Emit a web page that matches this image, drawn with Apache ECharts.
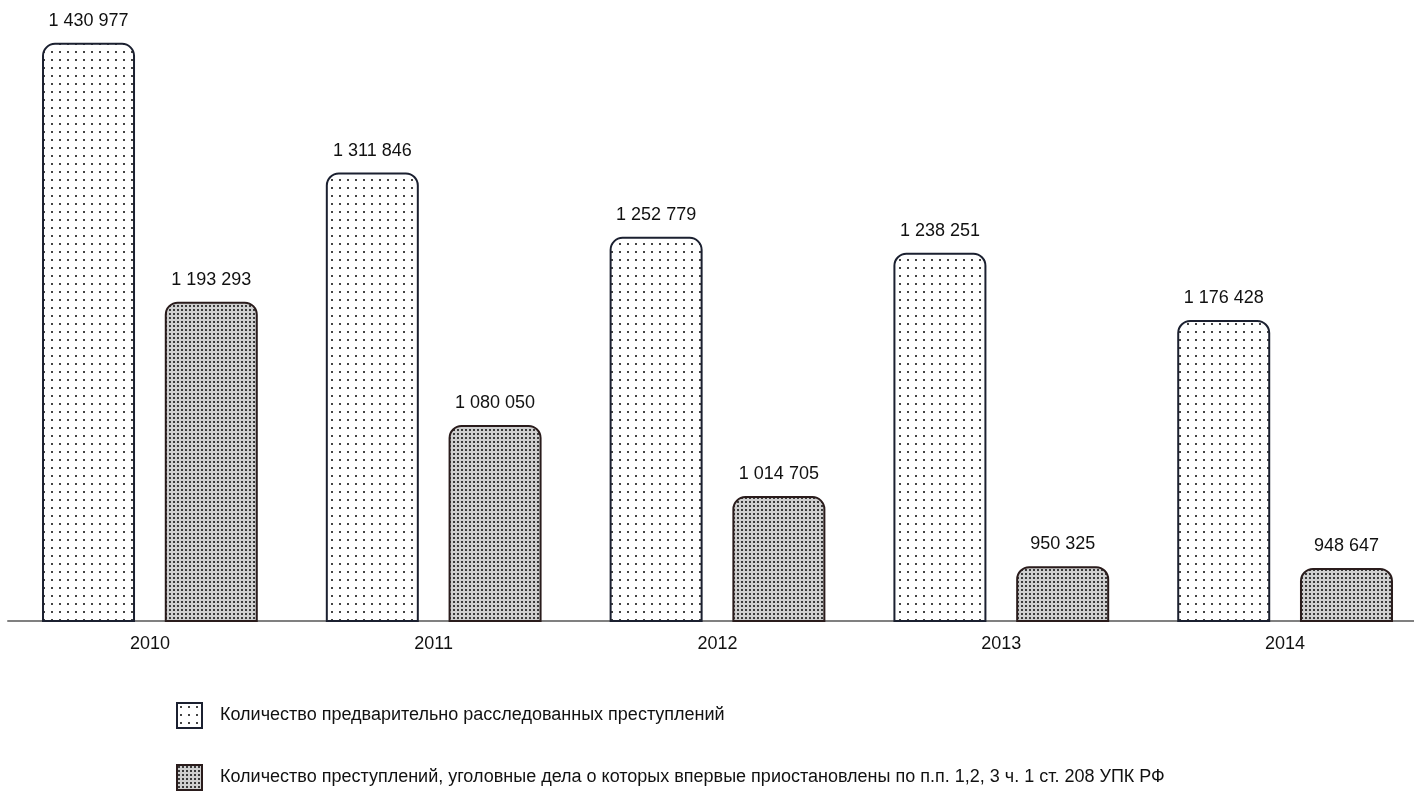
<!DOCTYPE html>
<html><head><meta charset="utf-8">
<script src="https://cdn.jsdelivr.net/npm/echarts@6/dist/echarts.min.js"></script>
<style>html,body{margin:0;padding:0;background:#fff;}#c{width:1414px;height:791px;}</style>
</head><body><div id="c"></div>
<script>
const categories = ['2010', '2011', '2012', '2013', '2014'];
const investigated = [1430977, 1311846, 1252779, 1238251, 1176428];
const suspended = [1193293, 1080050, 1014705, 950325, 948647];
const seriesNames = [
  'Количество предварительно расследованных преступлений',
  'Количество преступлений, уголовные дела о которых впервые приостановлены по п.п. 1,2, 3 ч. 1 ст. 208 УПК РФ'
];

function sparsePattern() {
  const c = document.createElement('canvas');
  c.width = 8; c.height = 8;
  const g = c.getContext('2d');
  g.fillStyle = '#ffffff'; g.fillRect(0, 0, 8, 8);
  g.fillStyle = '#444444'; g.fillRect(3, 3, 2, 2);
  return c;
}
function densePattern() {
  const c = document.createElement('canvas');
  c.width = 4; c.height = 4;
  const g = c.getContext('2d');
  g.fillStyle = '#cfcfcf'; g.fillRect(0, 0, 4, 4);
  g.fillStyle = '#3a3a3a'; g.fillRect(1, 1, 2, 2);
  return c;
}
const fmt = v => String(v).replace(/\B(?=(\d{3})+(?!\d))/g, ' ');
const font = '"Liberation Sans", Arial, sans-serif';
const legendBase = {
  orient: 'vertical', left: 171,
  itemWidth: 25, itemHeight: 25,
  icon: 'rect',
  itemStyle: {borderRadius: 0},
  textStyle: {fontSize: 18, color: '#111', fontFamily: font, padding: [0, 0, 0, 13]}
};

const chart = echarts.init(document.getElementById('c'), null, {renderer: 'canvas'});
chart.setOption({
  animation: false,
  backgroundColor: '#ffffff',
  textStyle: {fontFamily: font},
  grid: {left: 8, top: 33, width: 1419, bottom: 170, containLabel: false, outerBoundsMode: 'none'},
  legend: [
    Object.assign({}, legendBase, {top: 697, data: [seriesNames[0]]}),
    Object.assign({}, legendBase, {top: 759, data: [seriesNames[1]]})
  ],
  xAxis: {
    type: 'category', data: categories,
    axisLine: {lineStyle: {color: '#808080', width: 2}},
    axisTick: {show: false},
    axisLabel: {fontSize: 18, color: '#111', margin: 14, fontFamily: font}
  },
  yAxis: {type: 'value', min: 900000, max: 1440000, show: false, splitLine: {show: false}},
  series: [
    {
      name: seriesNames[0], type: 'bar', data: investigated,
      barWidth: 93, barGap: '32%',
      itemStyle: {color: {image: sparsePattern(), repeat: 'repeat'}, borderColor: '#1b2030', borderWidth: 2, borderRadius: [12, 12, 0, 0]},
      label: {show: true, position: 'top', distance: 13, fontSize: 18, color: '#111', fontFamily: font, formatter: p => fmt(p.value)}
    },
    {
      name: seriesNames[1], type: 'bar', data: suspended,
      barWidth: 93,
      itemStyle: {color: {image: densePattern(), repeat: 'repeat'}, borderColor: '#2a1c1c', borderWidth: 2, borderRadius: [12, 12, 0, 0]},
      label: {show: true, position: 'top', distance: 13, fontSize: 18, color: '#111', fontFamily: font, formatter: p => fmt(p.value)}
    }
  ]
});
</script></body></html>
